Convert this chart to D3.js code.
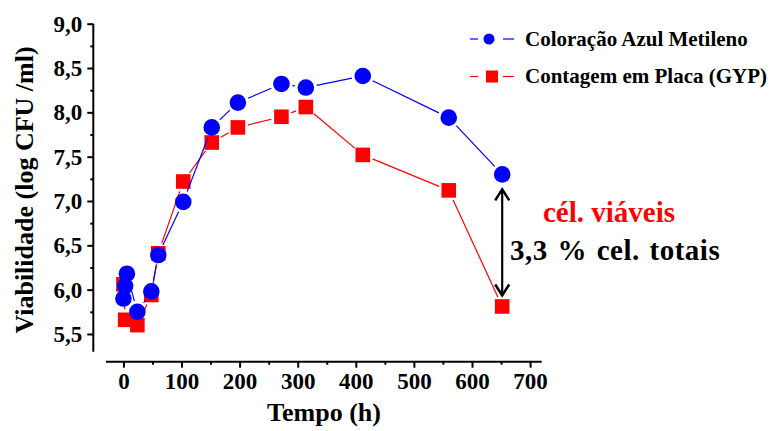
<!DOCTYPE html>
<html>
<head>
<meta charset="utf-8">
<script src="https://d3js.org/d3.v7.min.js"></script>
<style>
  body { margin: 0; background: #fff; }
  svg text { font-family: "Liberation Serif", "Times New Roman", serif; font-weight: bold; }
  .axis path, .axis line { stroke: #000; stroke-width: 2; }
  .axis text { font-size: 23px; fill: #000; }
</style>
</head>
<body>
<svg id="chart" width="773" height="431"></svg>
<script>
  var FONT = "'Liberation Serif', 'Times New Roman', serif";

  // time (h) and viability (log CFU/ml)
  var azulTempo  = [0, 3, 6, 24, 48, 60, 103, 152, 197, 272, 314, 412, 560, 652];
  var azulValor  = [5.90, 6.04, 6.18, 5.75, 5.98, 6.39, 6.99, 7.83, 8.11, 8.32, 8.28, 8.41, 7.94, 7.30];
  var placaTempo = [0, 3, 24, 48, 60, 103, 152, 197, 272, 314, 412, 560, 652];
  var placaValor = [6.06, 5.66, 5.60, 5.94, 6.41, 7.22, 7.66, 7.83, 7.95, 8.06, 7.52, 7.12, 5.81];

  var xTicks = [0, 100, 200, 300, 400, 500, 600, 700];
  var yTicks = [5.5, 6.0, 6.5, 7.0, 7.5, 8.0, 8.5, 9.0];
  var legendLabels = ["Coloração Azul Metileno", "Contagem em Placa (GYP)"];

  var svg = d3.select("#chart");

  var x = d3.scaleLinear().domain([-30, 720]).range([106, 541.7]);
  var y = d3.scaleLinear().domain([5.3, 9.0]).range([351.7, 23.7]);

  var fmt = function(d) { return d3.format(".1f")(d).replace(".", ","); };

  // y axis (offset from the x axis, Origin style)
  var yAxisG = svg.append("g").attr("class", "axis").attr("transform", "translate(93.3,0)");
  yAxisG.call(d3.axisLeft(y).tickValues(yTicks).tickSize(6).tickPadding(5).tickFormat(fmt));
  yAxisG.append("g").call(d3.axisLeft(y).tickValues([5.75, 6.25, 6.75, 7.25, 7.75, 8.25, 8.75]).tickSize(3).tickFormat(""))
    .select(".domain").remove();
  yAxisG.select(".domain").attr("d", "M0," + y(5.3) + "V" + y(9.0));

  // x axis
  var xAxisG = svg.append("g").attr("class", "axis").attr("transform", "translate(0,361.7)");
  xAxisG.call(d3.axisBottom(x).tickValues(xTicks).tickSize(6).tickPadding(5));
  xAxisG.append("g").call(d3.axisBottom(x).tickValues([50, 150, 250, 350, 450, 550, 650]).tickSize(3).tickFormat(""))
    .select(".domain").remove();
  xAxisG.select(".domain").attr("d", "M" + x(-30) + ",0H" + x(720));

  // axis titles
  svg.append("text")
    .attr("x", 324).attr("y", 421)
    .attr("text-anchor", "middle")
    .style("font-size", "26px")
    .text("Tempo (h)");
  svg.append("text")
    .attr("transform", "translate(33,190) rotate(-90)")
    .attr("text-anchor", "middle")
    .style("font-size", "26px")
    .text("Viabilidade (log CFU /ml)");

  // line segments with small gaps round each marker
  function gappedSegments(ts, vs, gap) {
    var segs = [];
    for (var i = 0; i < ts.length - 1; i++) {
      var x1 = x(ts[i]), y1 = y(vs[i]), x2 = x(ts[i + 1]), y2 = y(vs[i + 1]);
      var len = Math.hypot(x2 - x1, y2 - y1);
      if (len <= 2 * gap) continue;
      var ux = (x2 - x1) / len, uy = (y2 - y1) / len;
      segs.push([x1 + ux * gap, y1 + uy * gap, x2 - ux * gap, y2 - uy * gap]);
    }
    return segs;
  }

  function drawLines(segs, color) {
    svg.append("g").selectAll("line")
      .data(segs)
      .enter().append("line")
        .attr("x1", function(d) { return d[0]; })
        .attr("y1", function(d) { return d[1]; })
        .attr("x2", function(d) { return d[2]; })
        .attr("y2", function(d) { return d[3]; })
        .attr("stroke", color)
        .attr("stroke-width", 1.2);
  }

  // red series (plate count)
  drawLines(gappedSegments(placaTempo, placaValor, 10.5), "#ff0000");
  svg.append("g").selectAll("rect")
    .data(d3.range(placaTempo.length))
    .enter().append("rect")
      .attr("x", function(i) { return x(placaTempo[i]) - 7.3; })
      .attr("y", function(i) { return y(placaValor[i]) - 7.3; })
      .attr("width", 14.6)
      .attr("height", 14.6)
      .attr("fill", "#ff0000");

  // blue series (methylene blue)
  drawLines(gappedSegments(azulTempo, azulValor, 11), "#0000ff");
  svg.append("g").selectAll("circle")
    .data(d3.range(azulTempo.length))
    .enter().append("circle")
      .attr("cx", function(i) { return x(azulTempo[i]); })
      .attr("cy", function(i) { return y(azulValor[i]); })
      .attr("r", 8.3)
      .attr("fill", "#0000ff");

  // legend
  var legend = svg.append("g");
  var rows = [{ color: "#0000ff", cy: 39, base: 45.5 }, { color: "#ff0000", cy: 76.5, base: 83 }];
  rows.forEach(function(r, i) {
    legend.append("line").attr("x1", 470).attr("x2", 478).attr("y1", r.cy).attr("y2", r.cy)
      .attr("stroke", r.color).attr("stroke-width", 1.2);
    legend.append("line").attr("x1", 503).attr("x2", 514).attr("y1", r.cy).attr("y2", r.cy)
      .attr("stroke", r.color).attr("stroke-width", 1.2);
    if (i === 0) {
      legend.append("circle").attr("cx", 489).attr("cy", r.cy).attr("r", 5.5).attr("fill", r.color);
    } else {
      legend.append("rect").attr("x", 486).attr("y", r.cy - 6).attr("width", 12).attr("height", 12).attr("fill", r.color);
    }
    legend.append("text")
      .attr("x", 525).attr("y", r.base)
      .style("font-size", "21px")
      .text(legendLabels[i]);
  });

  // double arrow between the last points
  var arrowX = x(652);
  var arrowTop = y(7.30) + 15, arrowBot = y(5.81) - 11;
  svg.append("line").attr("x1", arrowX).attr("x2", arrowX).attr("y1", arrowTop + 1).attr("y2", arrowBot - 1)
    .attr("stroke", "#000").attr("stroke-width", 2.2);
  svg.append("path")
    .attr("d", "M" + (arrowX - 7) + "," + (arrowTop + 11) + "L" + arrowX + "," + arrowTop + "L" + (arrowX + 7) + "," + (arrowTop + 11))
    .attr("fill", "none").attr("stroke", "#000").attr("stroke-width", 2.5);
  svg.append("path")
    .attr("d", "M" + (arrowX - 7) + "," + (arrowBot - 11) + "L" + arrowX + "," + arrowBot + "L" + (arrowX + 7) + "," + (arrowBot - 11))
    .attr("fill", "none").attr("stroke", "#000").attr("stroke-width", 2.5);

  svg.append("text")
    .attr("x", 543).attr("y", 222)
    .attr("fill", "#ff0000")
    .style("font-size", "29px")
    .text("cél. viáveis");
  svg.append("text")
    .attr("x", 510).attr("y", 260)
    .attr("fill", "#000")
    .style("font-size", "29px")
    .style("letter-spacing", "0.5px")
    .style("word-spacing", "2px")
    .text("3,3 % cel. totais");

  svg.selectAll("text").attr("font-family", FONT);
</script>
</body>
</html>
